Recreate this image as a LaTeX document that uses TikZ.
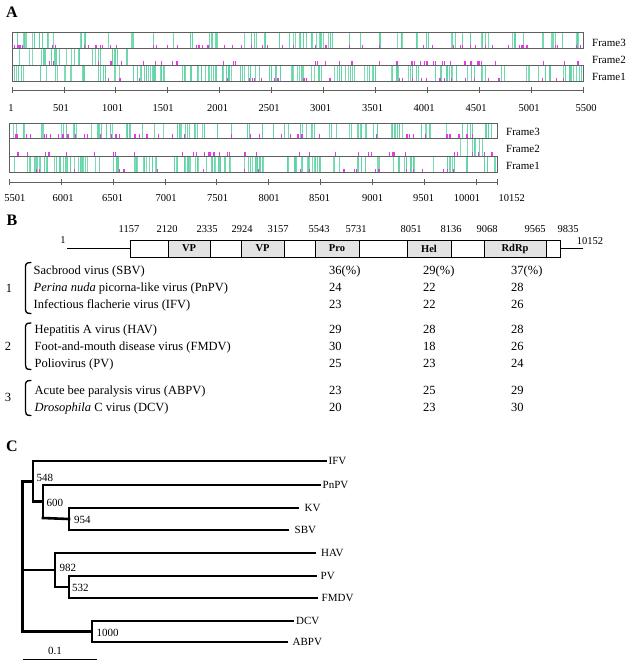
\documentclass[tikz,border=0pt]{standalone}
\usepackage{fontspec}
\setmainfont{Liberation Serif}
\definecolor{seafoam}{RGB}{90,210,160}
\definecolor{pinkm}{RGB}{228,60,228}
\definecolor{frgray}{RGB}{95,95,95}
\tikzset{
  gline/.style={line width=0.8pt},
  ptick/.style={draw=pinkm, line width=1.1pt},
  frameln/.style={draw=frgray, line width=0.7pt},
  ruler/.style={draw=frgray, line width=0.7pt},
  ticklab/.style={font=\fontsize{10.5}{12}\selectfont, inner sep=0pt},
  framelab/.style={font=\fontsize{11}{13}\selectfont, anchor=west, inner sep=0pt},
  panellab/.style={font=\fontsize{16}{18}\selectfont\bfseries, inner sep=0pt},
  gnum/.style={font=\fontsize{10.5}{12}\selectfont, inner sep=0pt},
  seglab/.style={font=\fontsize{10.5}{12}\selectfont\bfseries, inner sep=0pt},
  genbox/.style={draw=black, line width=0.8pt},
  shade/.style={fill=black!11},
  tabtext/.style={font=\fontsize{12.5}{14}\selectfont, anchor=west, inner sep=0pt, text height=0.72em, text depth=0.22em},
  bracket/.style={draw=black, line width=1.3pt, line cap=round},
  branch/.style={draw=black, line width=2.6pt, line cap=rect},
  treelab/.style={font=\fontsize{11}{13}\selectfont, anchor=west, inner sep=0pt},
  bootlab/.style={font=\fontsize{11}{13}\selectfont, anchor=west, inner sep=0pt},
}
\newcommand\greenlines[3]{%
  \foreach \xa/\xb/\nn in {#3} {
    \foreach \k in {1,...,\nn} {
      \pgfmathsetmacro\xx{\xa+rnd*(\xb-\xa)}
      \pgfmathsetmacro\op{int(75+25*rnd)}
      \draw[gline, draw=seafoam!\op!white] (\xx,#1) -- (\xx,#2);
    }
  }
}
\newcommand\pinkticks[5]{%
  \foreach \k in {1,...,#5} {
    \pgfmathsetmacro\xx{#3+rnd*(#4-#3)}
    \draw[ptick] (\xx,#1) -- (\xx,#2);
  }
}
\begin{document}
\begin{tikzpicture}[x=1pt,y=-1pt]
\useasboundingbox (0,0) rectangle (628,664);
\fill[white] (0,0) rectangle (628,664);
\pgfmathsetseed{4711}

% ---------------- Panel A ----------------
\node[panellab] (labA) at (12,12) {A};

% top block: frame3 row
\greenlines{32}{48.7}{17/27/5, 32/54/9, 77/88/5, 107/109/1, 127/134/4, 153/155/1, 172/174/1, 186/193/3, 202/228/7, 242/270/9, 278/280/1, 287/314/10, 316/333/8, 348/350/1, 357/361/2, 377/381/2, 396/403/4, 414/418/2, 426/436/3, 451/464/5, 469/471/1, 481/489/4, 511/523/6, 542/546/2, 551/563/5, 574/579/3}
% frame2 row
\greenlines{48.7}{65}{15/60/14, 65/80/5, 88/101/4, 105/134/8}
% frame1 row
\greenlines{65}{81.5}{13/27/8, 40/47/3, 55/72/7, 80/87/3, 93/107/5, 113/120/3, 132/138/3, 140/167/14, 182/187/3, 188/233/22, 240/260/8, 267/283/6, 290/323/16, 333/377/18, 387/400/5, 407/420/5, 433/457/12, 467/487/7, 500/507/2, 513/530/6, 537/582/14}
\pinkticks{44.5}{48.7}{14}{582}{58}
\pinkticks{61}{65}{16}{582}{44}
\pinkticks{77.5}{81.5}{14}{582}{30}
\draw[frameln] (12,32) rectangle (583,48.7);
\draw[frameln] (12,65) rectangle (583,81.5);
\draw[frameln] (12,48.7) -- (12,65);
\node[framelab] (f3a) at (592,43) {Frame3};
\node[framelab] (f2a) at (592,59.5) {Frame2};
\node[framelab] (f1a) at (592,77) {Frame1};

% top ruler
\draw[ruler] (12,90) -- (583,90);
\foreach \xx/\lx/\lab in {12/11/1, 63.9/61/501, 115.8/112.5/1001, 167.8/163/1501, 219.7/217.5/2001, 271.6/269/2501, 323.5/320.5/3001, 375.4/372.5/3501, 427.4/424/4001, 479.3/476/4501, 531.2/529/5001, 583/586/5500} {
  \draw[ruler] (\xx,87) -- (\xx,93);
  \node[ticklab] (ta\lab) at (\lx,108) {\lab};
}

% bottom block
\greenlines{123.3}{138.3}{13/27/5, 38/45/3, 57/67/3, 70/77/3, 90/107/8, 110/115/2, 123/133/5, 140/143/1, 153/157/2, 163/167/1, 177/207/14, 217/220/2, 231/233/1, 247/250/2, 260/263/2, 273/277/1, 283/290/3, 297/317/8, 327/337/3, 349/367/9, 372/377/2, 390/407/8, 420/433/6, 443/447/1, 461/473/5, 485/493/5}
\greenlines{138.3}{156}{458/486/8}
\greenlines{156}{172.7}{12/17/2, 27/50/14, 50/90/25, 93/100/3, 113/123/5, 133/157/12, 173/200/15, 203/233/14, 240/267/14, 283/320/18, 318/327/3, 333/343/4, 357/367/5, 372/380/4, 393/407/5, 410/420/4, 432/434/1, 447/457/7, 463/467/2, 480/490/4, 492/496/2}
\pinkticks{134}{138.3}{12}{496}{50}
\pinkticks{151.5}{155.5}{10}{496}{40}
\pinkticks{168.5}{172.7}{12}{496}{24}
\draw[frameln] (9.3,123.3) rectangle (497,138.3);
\draw[frameln] (9.3,156) rectangle (497,172.7);
\draw[frameln] (9.3,138.3) -- (9.3,156);
\node[framelab] (f3b) at (506,132) {Frame3};
\node[framelab] (f2b) at (506,149) {Frame2};
\node[framelab] (f1b) at (506,166) {Frame1};

% bottom ruler
\draw[ruler] (9.3,182) -- (497,182);
\foreach \xx/\lx/\lab in {9.3/15/5501, 61.2/63/6001, 113/112.5/6501, 165/166/7001, 216.7/217.5/7501, 268.6/269/8001, 320.4/319.5/8501, 372.3/372.5/9001, 424/423.5/9501, 476/467/10001} {
  \draw[ruler] (\xx,179) -- (\xx,185);
  \node[ticklab] (tb\lab) at (\lx,198) {\lab};
}
\draw[ruler] (497,179) -- (497,185);
\node[ticklab, anchor=west] (tb10152) at (498.5,198) {10152};

% ---------------- Panel B ----------------
\node[panellab] (labB) at (12,220) {B};

\foreach \xx/\lab in {129/1157, 167/2120, 207/2335, 242/2924, 278/3157, 319/5543, 356/5731, 411/8051, 451/8136, 487/9068, 535/9565, 568/9835} {
  \node[gnum] (g\lab) at (\xx,229) {\lab};
}
\node[gnum] (gstart) at (63,240.5) {1};
\node[gnum] (gend) at (590,241) {10152};

\coordinate (ls) at (67,248);
\coordinate (le) at (583,248);
\fill[shade] (168,240) rectangle (210,257);
\fill[shade] (241,240) rectangle (284,257);
\fill[shade] (315,240) rectangle (359,257);
\fill[shade] (407,240) rectangle (451,257);
\fill[shade] (484,240) rectangle (546,257);
\draw[genbox] (130,240) rectangle (560,257);
\foreach \xx in {168,210,241,284,315,359,407,451,484,546} {
  \draw[genbox] (\xx,240) -- (\xx,257);
}
\draw[genbox] (ls) -- (130,248);
\draw[genbox] (560,248) -- (le);
\node[seglab] (vp1) at (189,248.5) {VP};
\node[seglab] (vp2) at (262.5,248.5) {VP};
\node[seglab] (pro) at (337,248.5) {Pro};
\node[seglab] (hel) at (429,248.5) {Hel};
\node[seglab] (rdrp) at (515,248.5) {RdRp};

% table
\node[tabtext] (r1) at (33.5,272) {Sacbrood virus (SBV)};
\node[tabtext] (r2) at (33.5,288.5) {\textit{Perina nuda} picorna-like virus (PnPV)};
\node[tabtext] (r3) at (33.5,306) {Infectious flacherie virus (IFV)};
\node[tabtext] (r4) at (34.5,331) {Hepatitis A virus (HAV)};
\node[tabtext] (r5) at (34.5,347.5) {Foot-and-mouth disease virus (FMDV)};
\node[tabtext] (r6) at (34.5,364.5) {Poliovirus (PV)};
\node[tabtext] (r7) at (34.5,391.5) {Acute bee paralysis virus (ABPV)};
\node[tabtext] (r8) at (34.5,408.5) {\textit{Drosophila} C virus (DCV)};

\foreach \yy/\a/\b/\c/\n in {272/36(\%)/29(\%)/37(\%)/1, 288.5/24/22/28/2, 306/23/22/26/3, 331/29/28/28/4, 347.5/30/18/26/5, 364.5/25/23/24/6, 391.5/23/25/29/7, 408.5/20/23/30/8} {
  \node[tabtext] (c1r\n) at (329,\yy) {\a};
  \node[tabtext] (c2r\n) at (423,\yy) {\b};
  \node[tabtext] (c3r\n) at (511,\yy) {\c};
}

\node[tabtext, anchor=center] (grp1) at (9,290) {1};
\node[tabtext, anchor=center] (grp2) at (8,347.5) {2};
\node[tabtext, anchor=center] (grp3) at (8,398.5) {3};
\draw[bracket] (31,262.5) .. controls (26,262.5) and (25.5,264) .. (25.5,268) -- (25.5,308) .. controls (25.5,312) and (26,313.5) .. (31,313.5);
\draw[bracket] (31,323) .. controls (26,323) and (25.5,324.5) .. (25.5,328) -- (25.5,365) .. controls (25.5,368) and (26,369.5) .. (31,369.5);
\draw[bracket] (31,380.5) .. controls (26,380.5) and (25.5,382) .. (25.5,385.5) -- (25.5,411) .. controls (25.5,414) and (26,415.5) .. (31,415.5);

% ---------------- Panel C ----------------
\node[panellab] (labC) at (12,446) {C};

% internal nodes
\coordinate (root) at (22.7,570);
\coordinate (n1) at (33,481.5);
\coordinate (n2) at (43,501.5);
\coordinate (n3) at (69,519);
\coordinate (m1) at (55,570);
\coordinate (m2) at (69,587);
\coordinate (d1) at (92,631.5);

% leaf tips
\coordinate (tIFV) at (326,461);
\coordinate (tPnPV) at (320,485);
\coordinate (tKV) at (298,508);
\coordinate (tSBV) at (288,530);
\coordinate (tHAV) at (315,553);
\coordinate (tPV) at (316,576);
\coordinate (tFMDV) at (317,598);
\coordinate (tDCV) at (293,621);
\coordinate (tABPV) at (287,642);

\node[treelab] (IFV) at (328.5,461) {IFV};
\node[treelab] (PnPV) at (322.5,485) {PnPV};
\node[treelab] (KV) at (304.5,508) {KV};
\node[treelab] (SBV) at (294.5,530) {SBV};
\node[treelab] (HAV) at (321,553) {HAV};
\node[treelab] (PV) at (320.5,576) {PV};
\node[treelab] (FMDV) at (321.5,598) {FMDV};
\node[treelab] (DCV) at (296,621) {DCV};
\node[treelab] (ABPV) at (292.5,642) {ABPV};

% root
\draw[branch] (22.7,481.5) -- (22.7,631.5);
\draw[branch] (22.7,481.5) -- (n1);
\draw[branch] (root) -- (m1);
\draw[branch] (22.7,631.5) -- (d1);
% clade 1
\draw[branch] (33,461) -- (33,501.5);
\draw[branch] (33,461) -- (tIFV);
\draw[branch] (33,501.5) -- (n2);
\draw[branch] (43,485) -- (43,518);
\draw[branch] (43,485) -- (tPnPV);
\draw[branch] (43,518) -- (n3);
\draw[branch] (69,508) -- (69,530);
\draw[branch] (69,508) -- (tKV);
\draw[branch] (69,530) -- (tSBV);
% clade 2
\draw[branch] (55,553) -- (55,587);
\draw[branch] (55,553) -- (tHAV);
\draw[branch] (55,587) -- (m2);
\draw[branch] (69,576) -- (69,598);
\draw[branch] (69,576) -- (tPV);
\draw[branch] (69,598) -- (tFMDV);
% clade 3
\draw[branch] (92,621) -- (92,642);
\draw[branch] (92,621) -- (tDCV);
\draw[branch] (92,642) -- (tABPV);

% bootstrap values
\node[bootlab] (b548) at (36.5,478) {548};
\node[bootlab] (b600) at (46.5,502.5) {600};
\node[bootlab] (b954) at (74,520) {954};
\node[bootlab] (b982) at (59.5,568) {982};
\node[bootlab] (b532) at (72,588) {532};
\node[bootlab] (b1000) at (96.5,633) {1000};

% scale bar
\coordinate (sb1) at (22.7,659);
\coordinate (sb2) at (97,659);
\draw[black, line width=0.9pt] (sb1) -- (sb2);
\node[treelab, anchor=center] (sbl) at (55,651) {0.1};
\end{tikzpicture}
\end{document}
